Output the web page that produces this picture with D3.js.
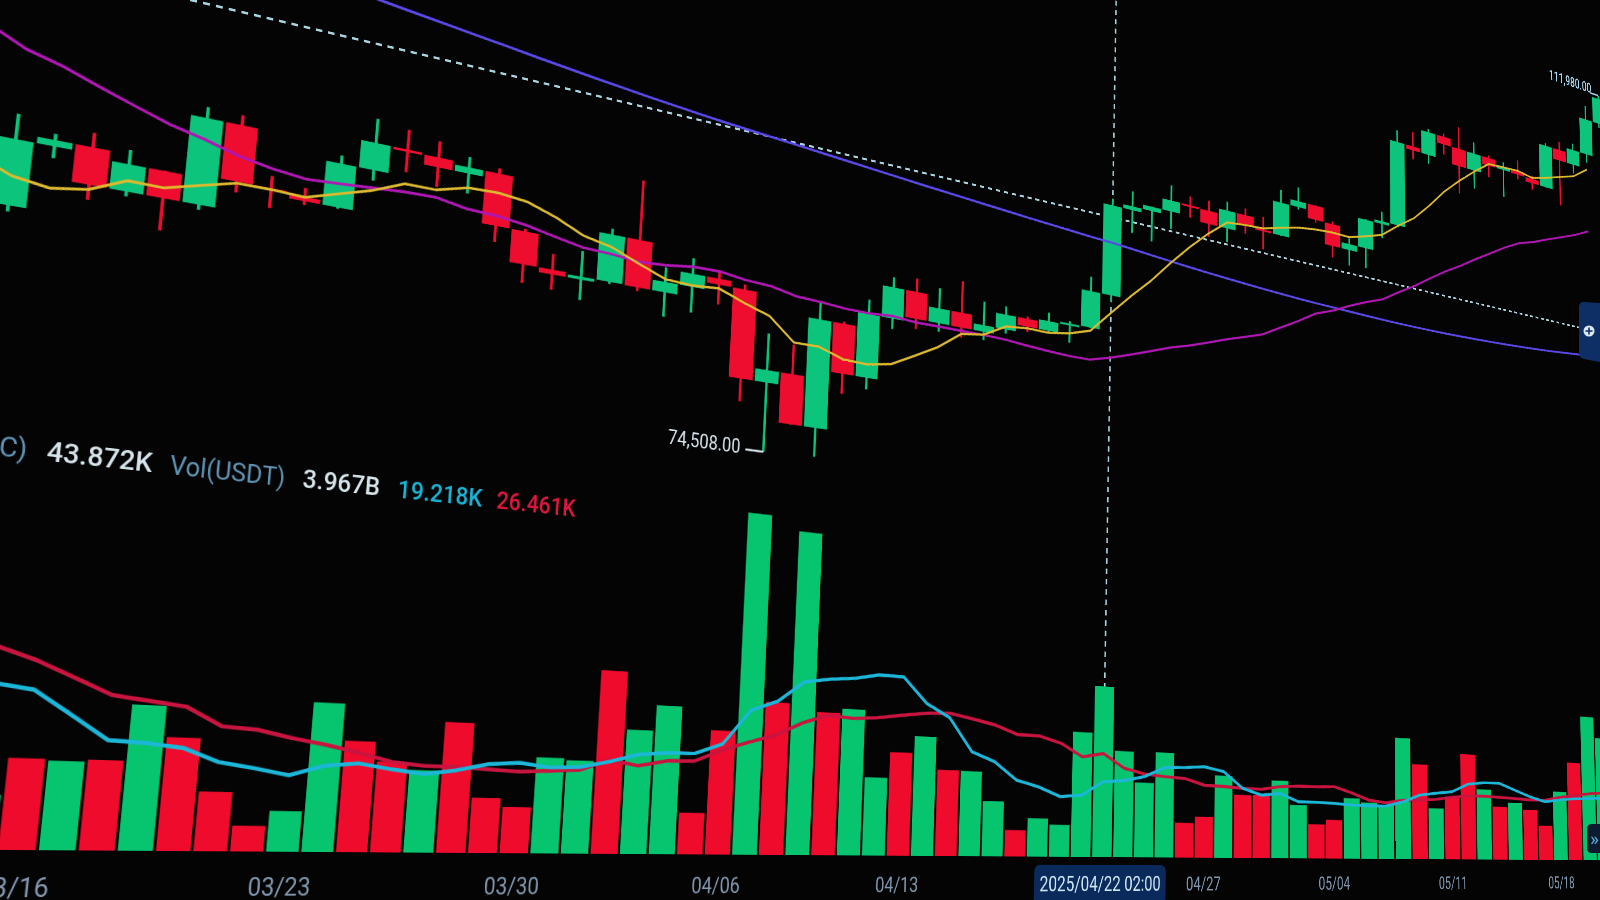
<!DOCTYPE html>
<html><head><meta charset="utf-8">
<script src="https://cdn.jsdelivr.net/npm/d3@7"></script>
<style>
html,body{margin:0;padding:0;background:#040405;width:1600px;height:900px;overflow:hidden}
#scene{position:absolute;left:0;top:0;overflow:visible;transform-origin:0 0}
#flat{position:absolute;left:0;top:0}
text{font-family:Roboto,"Liberation Sans",sans-serif}
</style></head><body>
<svg id="scene" width="3400" height="1600"></svg>
<svg id="flat" width="1600" height="900"></svg>
<script>
const dates=["03/12","03/13","03/14","03/15","03/16","03/17","03/18","03/19","03/20","03/21","03/22","03/23","03/24","03/25","03/26","03/27","03/28","03/29","03/30","03/31","04/01","04/02","04/03","04/04","04/05","04/06","04/07","04/08","04/09","04/10","04/11","04/12","04/13","04/14","04/15","04/16","04/17","04/18","04/19","04/20","04/21","04/22","04/23","04/24","04/25","04/26","04/27","04/28","04/29","04/30","05/01","05/02","05/03","05/04","05/05","05/06","05/07","05/08","05/09","05/10","05/11","05/12","05/13","05/14","05/15","05/16","05/17","05/18","05/19","05/20","05/21","05/22"];
const opens=[82860,83720,81090,84200,84500,82700,84020,82700,87000,84170,84040,83830,86080,87500,87420,86900,87230,84420,82650,82390,82550,85160,82520,83100,83840,83500,78430,79140,76270,82570,79630,83400,85280,83640,84540,83630,84030,84950,84450,85060,85170,87520,93440,93690,93980,94720,94650,93750,94980,94280,94170,96490,96910,95890,94320,94750,96830,97030,103260,102970,104700,104120,102790,104100,103500,103760,103460,103120,106450,105600,106790,109640];
const highs=[84360,84300,85400,84800,85200,84720,84050,87550,87500,84780,84500,86500,88770,88540,88290,87790,87520,84560,83500,83950,85490,88500,83920,84720,84230,83790,81240,80850,83590,82690,84270,85900,86100,85780,86500,85500,85470,85100,85600,85320,88460,93890,94700,94000,95760,95320,95340,95600,95450,95180,97400,97900,96930,96100,95170,96900,97730,104140,104360,104950,104950,105800,104980,104300,104100,104600,103700,106650,107100,107300,110750,111980];
const lows=[80670,79940,80800,83640,81980,82470,81130,82450,83630,83170,83640,83760,85540,86310,85860,85840,83560,81650,81570,81280,82430,82320,81160,81660,82380,77150,74508,76240,74620,78460,78940,82770,83030,83120,83020,83110,83770,84130,84330,83950,85140,87080,91930,91660,92800,93880,92870,92800,93700,92900,94130,96320,95700,93500,93200,93300,95800,96900,102300,102300,103350,100700,101400,102600,101400,103100,102600,103100,102000,104900,106100,109300];
const closes=[83720,81090,84200,84500,82700,84020,82700,87000,84170,84040,83830,86080,87500,87420,86900,87230,84420,82650,82390,82550,85160,82520,83100,83840,83500,78430,79140,76270,82570,79630,83400,85280,83640,84540,83630,84030,84950,84450,85060,85170,87520,93440,93690,93980,94720,94650,93750,94980,94280,94170,96490,96910,95890,94320,94750,96830,97030,103260,102970,104700,104120,102790,104100,103500,103760,103460,103120,106450,105600,106790,109640,111700];
const ma7=[null,83200,82471,82213,82477,83226,83203,83650,84090,84100,84027,84527,85024,85699,85706,86143,86197,86029,85501,84794,84471,83846,83256,83173,83294,82729,82241,80971,80979,80483,80420,80674,81419,82190,83241,83450,84210,84357,84326,84544,84970,86371,87751,89041,90509,91879,93104,94170,94290,94359,94717,95030,95207,95289,95256,95620,96029,96996,97861,99120,100520,101669,102707,103631,103703,103773,103547,103880,104281,104666,105543,null];
const ma25=[90400,89300,88502,88047,87438,86867,86315,85927,85444,85143,84948,85044,85156,85278,85312,85030,84958,84773,84445,84148,84085,83940,84035,84237,84263,84051,83973,83665,83594,83476,83452,83555,83426,83441,83425,83433,83388,83266,83171,83102,83114,83474,83916,84380,84866,85246,85695,86170,86588,87015,87737,88448,89233,89703,90308,90845,91315,92100,92837,93680,94483,95197,95983,96720,97464,98102,98489,98999,99464,99947,100546,null];
const ma99=[null,null,null,null,null,null,null,null,null,95450,95300,95130,94930,94740,94550,94360,94180,93980,93800,93620,93450,93280,93130,92980,92850,92730,92620,92500,92380,92260,92140,92020,91900,91790,91680,91570,91460,91350,91250,91150,91050,90980,90860,90740,90620,90510,90410,90320,90230,90150,90080,90020,89970,89940,89900,89870,89840,89820,89820,89830,89850,89880,89920,89970,90030,90100,90180,90270,90380,90500,90630,90770];
const volumes=[39,30,29,10,16.9,16.6,17.0,27.8,21.8,11.5,5.0,8.0,29.9,22.4,18.4,16.9,27.1,11.5,9.7,20.4,20.0,40.0,27.2,32.9,9.2,27.9,78.9,35.0,75.8,33.3,34.4,18.4,24.6,28.7,20.8,20.7,13.5,6.5,9.5,8.0,31.7,43.872,27.3,19.3,27.4,9.1,10.8,21.9,16.9,17.0,21.1,14.6,9.4,10.7,16.9,15.8,15.2,34.7,27.3,14.7,18.2,30.9,20.7,15.7,17.0,15.0,10.3,20.8,29.9,44.5,38,40];
const volMa5=[null,null,31.5,30.6,29.7,25.3,20.8,20.5,19.8,17.3,16.3,15.1,17.2,17.9,16.9,16.1,17.1,18.6,19.1,18.3,18.6,20,21.8,22.4,22.5,24.9,32.9,35.3,40.2,41.2,41.8,43,42.9,36.8,33.6,25.5,23.3,18.9,17.4,15.1,15.6,19.218,19.7,20.9,23.5,23.7,24.1,23,18.7,17,17.6,15.5,15.5,15.3,15,14.9,15,16.3,18.4,19.1,19.7,22.1,22.7,22.7,20.8,19,17.6,18.3,18.8,19,19.3,19.6];
const volMa10=[null,null,39,37.4,35.2,32.3,29.4,28.6,27.8,24.3,23.9,22.5,21.4,20,18.4,17.8,17.8,17.5,17.2,17.6,18,20.4,19.3,20.6,20.8,23.5,25.6,27.5,30.6,32.7,32.2,32.7,33.6,34.4,34.7,33.6,32.4,30.3,30.2,28.6,25.4,26.461,22.9,21.6,21.1,20.8,19.2,19,18.7,18.6,19.5,19.8,19.8,20,18.4,16.5,15.9,16.8,17,17.3,18.1,18.6,18.7,18.5,18.3,18,18.1,19.1,19.8,20.5,20.9,21.2];
const tickLabels=["03/16","03/23","03/30","04/06","04/13","04/27","05/04","05/11","05/18"];
const crosshairDate="04/22", crosshairPrice=92650, lowPrice=74508, highPrice=111980;
const crosshairLabel="2025/04/22 02:00";
const legend=[["C)",-2,456,"#5f93b3",29,400],["43.872K",46,461,"#d5e4ea",30,500],["Vol(USDT)",169,474,"#5f93b3",28.6,400],["3.967B",302,487,"#d5e4ea",29.5,500],["19.218K",397,498,"#19b3d4",29,500],["26.461K",496,508,"#e0163e",28.6,500]];

// Camera: the screen was photographed at an angle; this homography is the only place geometry lives.
const U=40.6,a=0.010477,l2=8.44e-5,OY=1400,OX=17;
const M=[3900*a/U,875*a/U,0,a/U, -0.1097,0.9283,0,-l2, 0,0,1,0,
 -39000*a+0.1097*OY+OX, -8750*a-0.9283*OY+850,0, -10*a+l2*OY+1];
const scene=d3.select("#scene").style("transform","matrix3d("+M.join(",")+")");
function unproject(sx,sy){ // screen point -> scene point
  const A=(3900-sx)*a,B=0.1097-sx*l2,C=OX-sx,D=(875-sy)*a,E=-0.9283-sy*l2,F=850-sy;
  const det=A*E-B*D,X=(-C*E+B*F)/det,Y=(-A*F+C*D)/det;
  return [U*(X+10),OY-Y];
}

const x=d3.scaleBand().domain(dates).range([U*6-U/2,U*6-U/2+U*dates.length]);
const cx=d=>x(d)+x.bandwidth()/2;
const y=d3.scaleLinear().domain([lowPrice,highPrice]).range([OY-513,OY-1390]);
const v=d3.scaleLinear().domain([0,100]).range([OY,OY-547]);
const GREEN="#0cc47c",RED="#ee0d2e",VG="#07c46f",VR="#ee0b2c";
const rows=dates.map((d,i)=>({d,o:opens[i],h:highs[i],l:lows[i],c:closes[i],vol:volumes[i]}));
const bw=x.bandwidth()*0.92;

// crosshair
const ch=scene.append("g").attr("stroke","#a9d4de").attr("stroke-width",3).attr("stroke-dasharray","8 7").attr("fill","none");
ch.append("line").attr("x1",0).attr("x2",3400).attr("y1",y(crosshairPrice)).attr("y2",y(crosshairPrice));
ch.append("line").attr("x1",cx(crosshairDate)).attr("x2",cx(crosshairDate)).attr("y1",0).attr("y2",v(0));

// volume bars
scene.append("g").selectAll("rect").data(rows).join("rect")
 .attr("x",d=>cx(d.d)-bw/2).attr("width",bw).attr("y",d=>v(d.vol)).attr("height",d=>v(0)-v(d.vol))
 .attr("fill",d=>d.c>=d.o?VG:VR);

// candles
const cg=scene.append("g");
cg.selectAll("line").data(rows).join("line").attr("x1",d=>cx(d.d)).attr("x2",d=>cx(d.d))
 .attr("y1",d=>y(d.h)).attr("y2",d=>y(d.l)).attr("stroke-width",3.8).attr("stroke",d=>d.c>=d.o?GREEN:RED);
cg.selectAll("rect").data(rows).join("rect").attr("x",d=>cx(d.d)-bw/2).attr("width",bw)
 .attr("y",d=>y(Math.max(d.o,d.c))).attr("height",d=>Math.max(3,Math.abs(y(d.o)-y(d.c))))
 .attr("fill",d=>d.c>=d.o?GREEN:RED);

// lines
const line=sc=>d3.line().defined(p=>p[1]!=null).x(p=>cx(p[0])).y(p=>sc(p[1])).curve(d3.curveLinear);
function draw(arr,sc,col,w){scene.append("path").datum(dates.map((d,i)=>[d,arr[i]])).attr("d",line(sc))
 .attr("fill","none").attr("stroke",col).attr("stroke-width",w).attr("stroke-linejoin","round");}
draw(ma99,y,"#5a48e8",3.4);
draw(ma25,y,"#b016b4",3.4);
draw(ma7,y,"#dcb92e",3.2);
draw(volMa10,v,"#c9143f",4.4);
draw(volMa5,v,"#1bb6d8",4.4);

// time axis
const axis=d3.axisBottom(x).tickValues(tickLabels).tickSize(0).tickPadding(18);
const ag=scene.append("g").attr("transform",`translate(0,${OY+10})`).call(axis);
ag.select(".domain").remove();
ag.selectAll("text").attr("fill","#8096ad").attr("font-size",27).attr("font-family","Roboto,sans-serif");
const bx=cx(crosshairDate);
scene.append("rect").attr("x",bx-126).attr("y",OY+11).attr("width",252).attr("height",70).attr("rx",9).attr("fill","#0a2a5c");
scene.append("text").attr("x",bx).attr("y",OY+47).attr("text-anchor","middle").attr("fill","#cfe6f5").attr("font-size",28.8).text(crosshairLabel);

// low / high annotations
const lowD="04/07", highD="05/22";
scene.append("line").attr("x1",cx(lowD)-28).attr("x2",cx(lowD)).attr("y1",y(lowPrice)).attr("y2",y(lowPrice)).attr("stroke","#d5e4ea").attr("stroke-width",2.8);
scene.append("text").attr("x",cx(lowD)-36).attr("y",y(lowPrice)+6).attr("text-anchor","end").attr("fill","#d5e4ea").attr("font-size",25).text("74,508.00");
scene.append("line").attr("x1",cx(highD)-24).attr("x2",cx(highD)).attr("y1",y(highPrice)).attr("y2",y(highPrice)).attr("stroke","#a8d8f0").attr("stroke-width",3);
const hp=unproject(1549,79);
scene.append("text").attr("x",hp[0]).attr("y",hp[1]).attr("fill","#a8d8f0").attr("font-weight",500).attr("font-size",25).text("111,980.00");

// legend
legend.forEach(([t,sx,sy,c,f,w])=>{const p=unproject(sx,sy);
 scene.append("text").attr("x",p[0]).attr("y",p[1]).attr("fill",c).attr("font-size",f).attr("font-weight",w).text(t);});

// flat overlay: right edge buttons
const fl=d3.select("#flat");
fl.append("path").attr("d","M1600 303 L1584 302 Q1579 302 1579 307 L1579 352 Q1579 358 1584 359 L1600 362 Z").attr("fill","#0e2f66");
fl.append("circle").attr("cx",1589).attr("cy",331).attr("r",5.5).attr("fill","#dfe8ee");
fl.append("path").attr("d","M1589 327.5V334.5M1585.5 331H1592.5").attr("stroke","#0e2f66").attr("stroke-width",1.6);
fl.append("path").attr("d","M1600 824 L1592 824 Q1587 824 1587 829 L1587 848 Q1587 853 1592 853 L1600 853 Z").attr("fill","#0b1c30");
fl.append("text").attr("x",1590).attr("y",845).attr("fill","#5fa8d8").attr("font-size",19).text("»");
</script></body></html>
